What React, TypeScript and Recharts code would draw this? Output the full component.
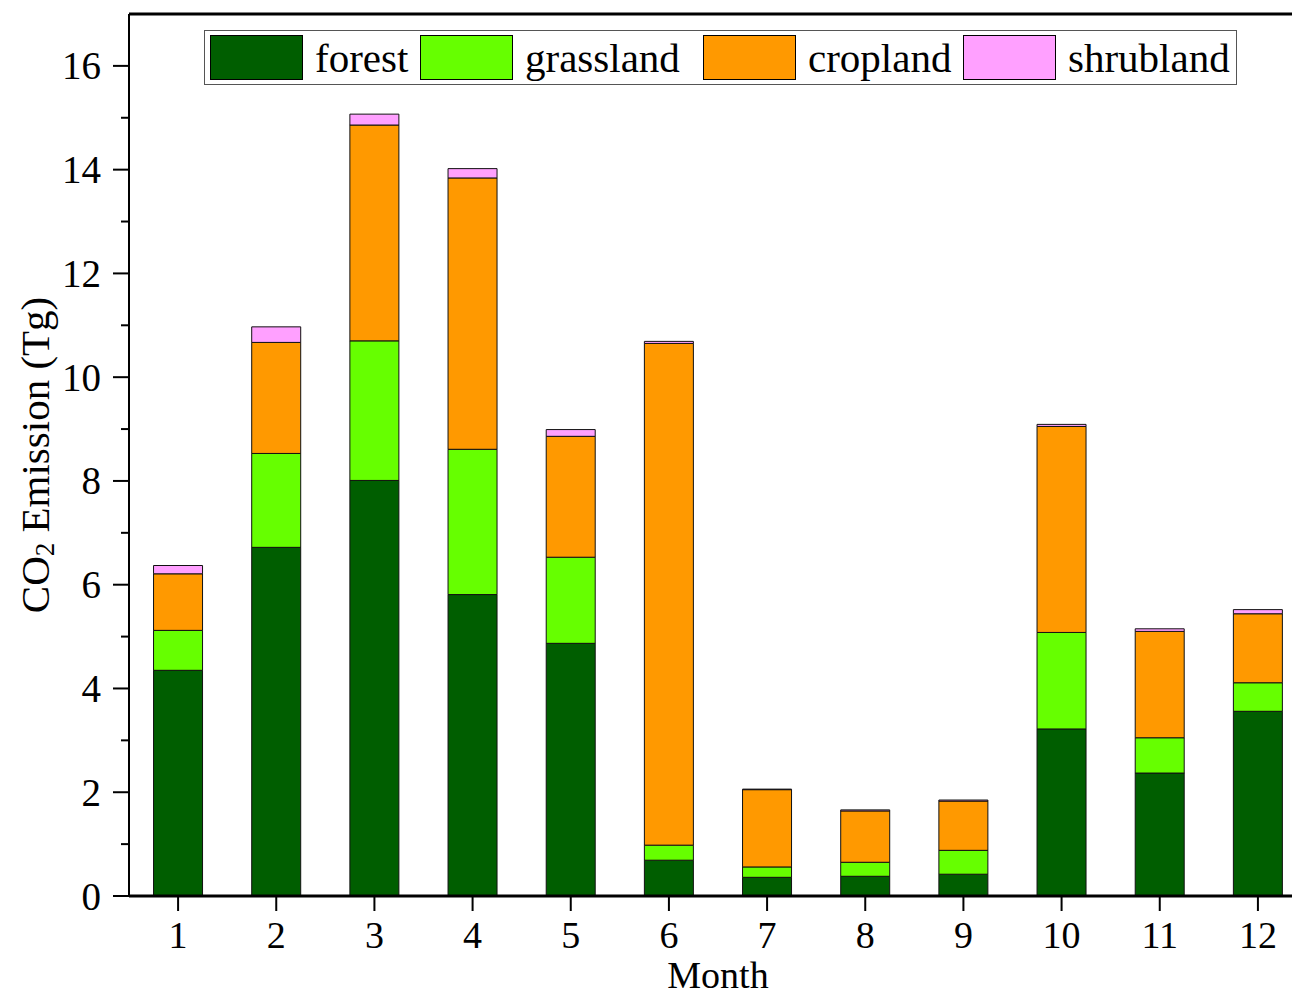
import { BarChart, Bar, XAxis, YAxis, ReferenceLine, Label } from "recharts";

const months = ["1", "2", "3", "4", "5", "6", "7", "8", "9", "10", "11", "12"];
const forest = [4.35, 6.72, 8.01, 5.81, 4.87, 0.69, 0.36, 0.38, 0.42, 3.22, 2.37, 3.56];
const grassland = [0.77, 1.81, 2.69, 2.8, 1.66, 0.29, 0.2, 0.27, 0.46, 1.86, 0.68, 0.55];
const cropland = [1.09, 2.14, 4.16, 5.23, 2.33, 9.67, 1.49, 0.99, 0.95, 3.97, 2.05, 1.33];
const shrubland = [0.16, 0.3, 0.21, 0.18, 0.13, 0.04, 0.01, 0.02, 0.02, 0.04, 0.05, 0.08];
const yTicks = [0, 1, 2, 3, 4, 5, 6, 7, 8, 9, 10, 11, 12, 13, 14, 15, 16];

const SERIES = [
  { key: "forest", name: "forest", color: "#005e00", legendWidth: 210 },
  { key: "grassland", name: "grassland", color: "#66ff00", legendWidth: 283 },
  { key: "cropland", name: "cropland", color: "#ff9900", legendWidth: 260 },
  { key: "shrubland", name: "shrubland", color: "#ffa0ff", legendWidth: 274 },
];

const FONT = "'Liberation Serif', 'Times New Roman', serif";

const data = months.map((m, i) => ({
  month: m,
  forest: forest[i],
  grassland: grassland[i],
  cropland: cropland[i],
  shrubland: shrubland[i],
}));

function YTick(props: any) {
  const { x, y, payload } = props;
  const axisX = x + 24;
  const major = payload.value % 2 === 0;
  return (
    <g>
      <line x1={axisX - (major ? 16 : 8)} x2={axisX} y1={y} y2={y} stroke="#000" strokeWidth={2} />
      {major && (
        <text x={axisX - 28} y={y} textAnchor="end" dominantBaseline="central" fontSize={39} fontFamily={FONT} fill="#000">
          {payload.value}
        </text>
      )}
    </g>
  );
}

function YLabel(props: any) {
  const { viewBox } = props;
  const cy = viewBox.y + viewBox.height / 2;
  const cx = 35;
  return (
    <text
      x={cx}
      y={cy}
      transform={`rotate(-90, ${cx}, ${cy})`}
      textAnchor="middle"
      dominantBaseline="central"
      fontSize={41}
      fontFamily={FONT}
      fill="#000"
    >
      CO<tspan fontSize={27} dy={10}>2</tspan>
      <tspan dy={-10}> Emission (Tg)</tspan>
    </text>
  );
}

function LegendBox() {
  return (
    <div
      style={{
        position: "absolute",
        left: 204,
        top: 30,
        width: 1033,
        height: 55,
        boxSizing: "border-box",
        display: "flex",
        alignItems: "center",
        border: "1px solid #555",
        background: "#fff",
        paddingLeft: 5,
        fontFamily: FONT,
        fontSize: 41,
        color: "#000",
      }}
    >
      {SERIES.map((s) => (
        <div key={s.key} style={{ display: "flex", alignItems: "center", width: s.legendWidth, flex: "none" }}>
          <div style={{ width: 91, height: 43, background: s.color, border: "1px solid #000", flex: "none" }} />
          <span style={{ marginLeft: 12, lineHeight: "44px", whiteSpace: "nowrap" }}>{s.name}</span>
        </div>
      ))}
    </div>
  );
}

export default function App() {
  return (
    <div style={{ position: "relative", width: 1300, height: 997, overflow: "hidden", margin: -8, background: "#fff" }}>
      <BarChart
        width={1307}
        height={997}
        data={data}
        margin={{ top: 14, right: 0, left: 0, bottom: 0 }}
        barCategoryGap="25%"
      >
        <XAxis
          dataKey="month"
          height={101}
          axisLine={{ stroke: "#000", strokeWidth: 3 }}
          tickLine={{ stroke: "#000", strokeWidth: 2 }}
          tickSize={15}
          tickMargin={10}
          tick={{ fontSize: 38, fontFamily: FONT, fill: "#000" }}
          interval={0}
        >
          <Label value="Month" position="insideBottom" offset={9} fontSize={38} fontFamily={FONT} fill="#000" />
        </XAxis>
        <YAxis
          width={129}
          domain={[0, 17]}
          ticks={yTicks}
          allowDataOverflow
          axisLine={{ stroke: "#000", strokeWidth: 2 }}
          tickLine={false}
          tickSize={16}
          tickMargin={8}
          tick={<YTick />}
          interval={0}
        >
          <Label content={<YLabel />} />
        </YAxis>
        <ReferenceLine y={17} stroke="#000" strokeWidth={3} />
        {SERIES.map((s) => (
          <Bar
            key={s.key}
            dataKey={s.key}
            name={s.name}
            stackId="a"
            fill={s.color}
            stroke="#111"
            strokeWidth={1}
            isAnimationActive={false}
          />
        ))}
      </BarChart>
      <LegendBox />
    </div>
  );
}
